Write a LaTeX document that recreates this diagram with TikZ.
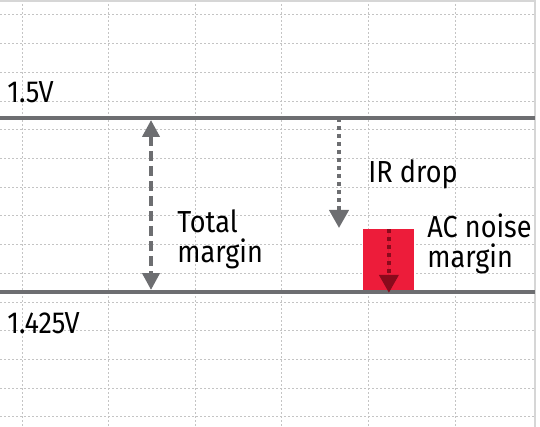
\documentclass[tikz,border=0pt]{standalone}
\usepackage{fontspec}
\setmainfont[FakeStretch=0.89]{Fira Sans}
\usetikzlibrary{positioning, arrows.meta}
\definecolor{railgray}{HTML}{6D6E71}
\definecolor{gridgray}{HTML}{C4C4C4}
\definecolor{framegray}{HTML}{D6D6D6}
\definecolor{acred}{HTML}{ED1C3A}
\definecolor{acdark}{HTML}{8A0A1C}

\begin{document}
\begin{tikzpicture}[
      x=0.5pt, y=-0.5pt,
      every node/.style={font=\fontsize{15.2}{15}\selectfont, inner sep=0pt},
      label/.style={anchor=base west, align=left},
      rail/.style={draw=railgray, line width=2pt},
      gridline/.style={draw=gridgray, line width=0.5pt, dash pattern=on 1pt off 1pt},
      spanarrow/.style={draw=railgray, line width=2pt, dash pattern=on 5pt off 2.5pt,
                        {Triangle[width=8.5pt, length=8.5pt]}-{Triangle[width=8.5pt, length=8.5pt]}},
      droparrow/.style={draw=railgray, line width=2pt, dash pattern=on 2pt off 2pt,
                        -{Triangle[width=9.5pt, length=9pt]}},
    ]
    \useasboundingbox (0,0) rectangle (540,427);

    % background grid
    \foreach \gx in {22, 108.6, 195.2, 281.8, 368.4, 455}
      \draw[gridline] (\gx,0) -- (\gx,427);
    \foreach \k in {0,...,14}
      \draw[gridline] (0,{15+28.7*\k}) -- (535,{15+28.7*\k});
    \draw[framegray, line width=0.75pt] (0,1) -- (535,1) -- (535,427);

    % AC noise band
    \node[fill=acred, minimum width=25.5pt, minimum height=31.5pt, anchor=north west]
      (band) at (363,229) {};

    % supply levels
    \draw[rail] (0,118) -- (535,118);
    \draw[rail] (0,292) -- (535,292);
    \node[label] (vhigh) at (7,103) {1.5V};
    \node[label] (vlow) at (7,333) {1.425V};

    % margins (base of a two-line label is its last line)
    \coordinate (tmtop) at (151,120);
    \coordinate (tmbot) at (151,290);
    \draw[spanarrow] (tmtop) -- (tmbot);
    \node[label] (total) at (177,263) {Total\\margin};

    \coordinate (irtop) at (339,118);
    \coordinate (irbot) at (339,228);
    \draw[droparrow] (irtop) -- (irbot);
    \node[label] (irdrop) at (368,183) {IR drop};

    \draw[droparrow, draw=acdark, fill=acdark] (band.north) -- (band.south);
    \node[label] (acnoise) at (427,267) {AC noise\\margin};
  \end{tikzpicture}
\end{document}
